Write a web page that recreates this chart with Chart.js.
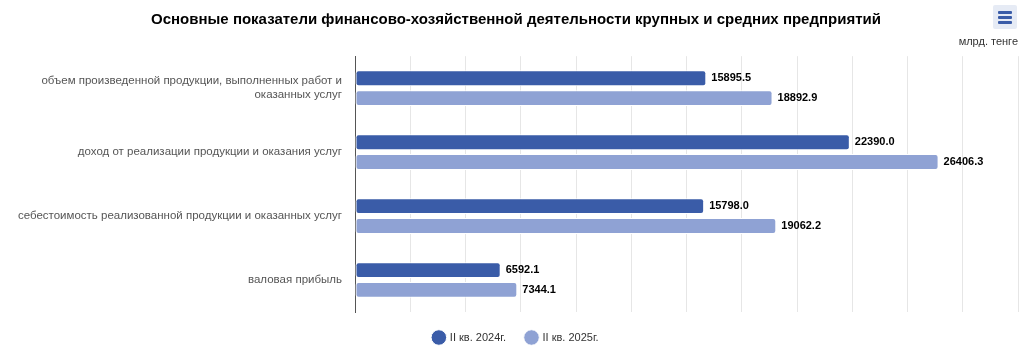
<!DOCTYPE html>
<html><head><meta charset="utf-8">
<script src="https://cdn.jsdelivr.net/npm/chart.js@4/dist/chart.umd.min.js"></script>
<style>
html,body{margin:0;padding:0;background:#fff;}
#wrap{position:relative;width:1024px;height:357px;}
#menu{position:absolute;left:993px;top:5px;width:24px;height:24px;background:#e6ebf5;border-radius:2px;}
#menu span{position:absolute;left:5px;width:14px;height:3px;background:#3a5ca8;border-radius:1px;}
</style></head>
<body><div id="wrap"><canvas id="c" width="1024" height="357"></canvas>
<div id="menu"><span style="top:6px"></span><span style="top:11px"></span><span style="top:16px"></span></div></div>
<script>
const categories = [
  ["объем произведенной продукции, выполненных работ и", "оказанных услуг"],
  "доход от реализации продукции и оказания услуг",
  "себестоимость реализованной продукции и оказанных услуг",
  "валовая прибыль"
];
const seriesNames = ["II кв. 2024г.", "II кв. 2025г."];
const values2024 = [15895.5, 22390.0, 15798.0, 6592.1];
const values2025 = [18892.9, 26406.3, 19062.2, 7344.1];
const titleText = "Основные показатели финансово-хозяйственной деятельности крупных и средних предприятий";
const unitText = "млрд. тенге";

const labelPlugin = {
  id: 'barLabels',
  afterDatasetsDraw(chart) {
    const ctx = chart.ctx;
    ctx.save();
    ctx.font = 'bold 11px "Liberation Sans", Arial, sans-serif';
    ctx.fillStyle = '#000';
    ctx.textBaseline = 'middle';
    ctx.textAlign = 'left';
    chart.data.datasets.forEach((ds, i) => {
      chart.getDatasetMeta(i).data.forEach((bar, j) => {
        ctx.fillText(ds.data[j].toFixed(1), bar.x + 5, bar.y);
      });
    });
    ctx.restore();
  }
};

new Chart(document.getElementById('c'), {
  type: 'bar',
  data: {
    labels: categories,
    datasets: [
      { label: seriesNames[0], data: values2024, backgroundColor: '#3a5ca8', borderColor: '#ffffff', borderWidth: 1, borderRadius: 3, borderSkipped: false },
      { label: seriesNames[1], data: values2025, backgroundColor: '#8fa2d4', borderColor: '#ffffff', borderWidth: 1, borderRadius: 3, borderSkipped: false }
    ]
  },
  options: {
    indexAxis: 'y',
    responsive: false,
    animation: false,
    categoryPercentage: 0.62,
    barPercentage: 0.8,
    layout: { padding: { left: 14, right: 6, top: 0, bottom: 4 } },
    plugins: {
      title: {
        display: true, text: titleText, color: '#000',
        font: { family: '"Liberation Sans", Arial, sans-serif', size: 15, weight: 'bold' },
        padding: { top: 11, bottom: 6 }
      },
      subtitle: {
        display: true, text: unitText, align: 'end', color: '#333',
        font: { family: '"Liberation Sans", Arial, sans-serif', size: 11 },
        padding: { top: 0, bottom: 8 }
      },
      legend: {
        position: 'bottom',
        labels: {
          usePointStyle: true, pointStyle: 'circle', boxWidth: 11, boxHeight: 11,
          color: '#333', padding: 20,
          font: { family: '"Liberation Sans", Arial, sans-serif', size: 11 }
        }
      },
      tooltip: { enabled: false }
    },
    scales: {
      x: {
        min: 0, max: 30000,
        ticks: { display: false, stepSize: 2500 },
        grid: { color: '#e6e6e6', drawTicks: false },
        border: { display: false }
      },
      y: {
        afterFit(scale) { scale.width = 341; },
        ticks: { color: '#555', padding: 13, font: { family: '"Liberation Sans", Arial, sans-serif', size: 11.5 } },
        grid: { display: false, drawTicks: false },
        border: { display: true, color: '#555', width: 1 }
      }
    }
  },
  plugins: [labelPlugin]
});
</script></body></html>
